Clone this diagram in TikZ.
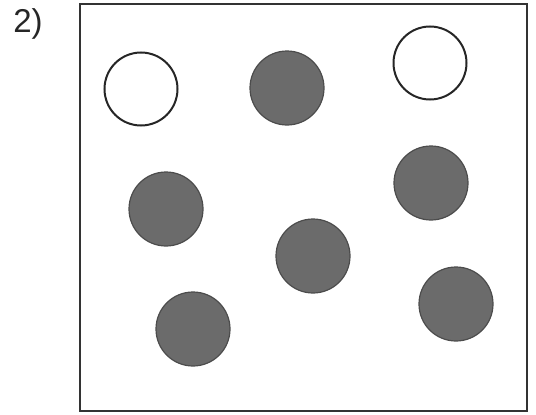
\documentclass[tikz,border=0pt]{standalone}
\usepackage{fontspec}
\setmainfont{Liberation Sans}
\begin{document}
\begin{tikzpicture}[x=1pt,y=-1pt,
  open/.style={circle,draw=black!85,line width=2pt,fill=white,minimum size=73pt,inner sep=0pt},
  full/.style={circle,draw=black!70,line width=1.2pt,fill=black!58,minimum size=74pt,inner sep=0pt}]
\useasboundingbox (0,0) rectangle (536,415);
\node[font=\fontsize{33}{38}\selectfont,text=black!85] (lab) at (28,24) {2)};
\draw[line width=1.6pt,black!80] (80,4) rectangle (527,411);
\node[open] (w1) at (141,89) {};
\node[full] (g1) at (287,88) {};
\node[open] (w2) at (430,63) {};
\node[full] (g2) at (166,209) {};
\node[full] (g3) at (431,183) {};
\node[full] (g4) at (313,256) {};
\node[full] (g5) at (193,329) {};
\node[full] (g6) at (456,304) {};
\end{tikzpicture}
\end{document}
